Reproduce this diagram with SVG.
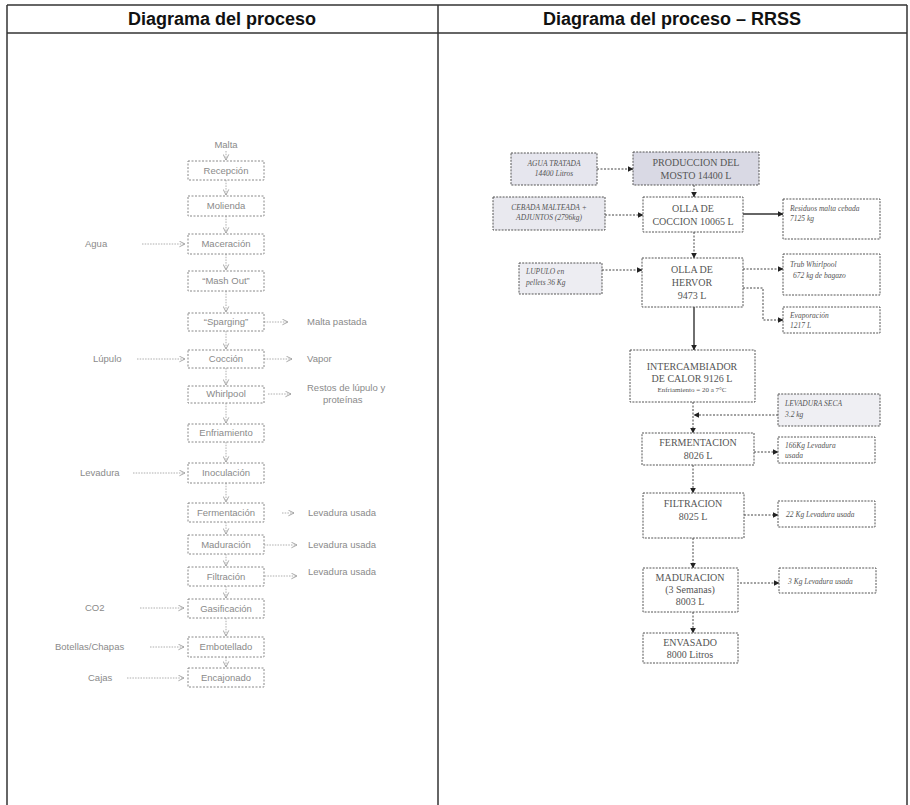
<svg xmlns="http://www.w3.org/2000/svg" width="910" height="805" viewBox="0 0 910 805">
<defs>
<style>
.hdr{font-family:"Liberation Sans",Arial,sans-serif;font-weight:bold;font-size:18px;fill:#111;text-anchor:middle}
.tbl{stroke:#333;stroke-width:1.5;fill:none}
.lb{fill:#fff;stroke:#888;stroke-width:1;stroke-dasharray:2 1.5}
.lt{font-family:"Liberation Sans",Arial,sans-serif;font-size:9.5px;fill:#8a8a8a;text-anchor:middle}
.ls{font-family:"Liberation Sans",Arial,sans-serif;font-size:9.5px;fill:#8a8a8a}
.lc{stroke:#999;stroke-width:0.8;stroke-dasharray:1.5 1.2;fill:none;marker-end:url(#chev)}
.rb{stroke:#555;stroke-width:1;stroke-dasharray:2 1.2}
.rt{font-family:"Liberation Serif","Times New Roman",serif;font-size:10px;fill:#555;text-anchor:middle}
.ri{font-family:"Liberation Serif","Times New Roman",serif;font-style:italic;font-size:7.5px;fill:#555}
.rc{stroke:#444;stroke-width:1;stroke-dasharray:2 1.5;fill:none;marker-end:url(#tri)}
.rs{stroke:#333;stroke-width:1.4;fill:none;marker-end:url(#tri)}
</style>
<marker id="chev" viewBox="0 0 10 10" refX="9" refY="5" markerWidth="7" markerHeight="7" orient="auto" markerUnits="userSpaceOnUse">
<path d="M1,1 L9,5 L1,9" fill="none" stroke="#999" stroke-width="1.2"/>
</marker>
<marker id="tri" viewBox="0 0 10 10" refX="9" refY="5" markerWidth="6" markerHeight="6" orient="auto" markerUnits="userSpaceOnUse">
<path d="M0,0 L10,5 L0,10 Z" fill="#222"/>
</marker>
</defs>
<rect width="910" height="805" fill="#fff"/>

<g id="table">
<line class="tbl" x1="7" y1="5" x2="907" y2="5"/>
<line class="tbl" x1="7" y1="33" x2="907" y2="33"/>
<line class="tbl" x1="7" y1="5" x2="7" y2="805"/>
<line class="tbl" x1="438" y1="5" x2="438" y2="805"/>
<line class="tbl" x1="907" y1="5" x2="907" y2="805"/>
<text class="hdr" x="222" y="25">Diagrama del proceso</text>
<text class="hdr" x="672" y="25">Diagrama del proceso – RRSS</text>
</g>

<g id="connectors">
<path class="lc" d="M226,151 V160"/>
<path class="lc" d="M226,180 V195"/>
<path class="lc" d="M226,216 V233"/>
<path class="lc" d="M226,254 V270"/>
<path class="lc" d="M226,291 V312"/>
<path class="lc" d="M226,331 V349"/>
<path class="lc" d="M226,368 V385"/>
<path class="lc" d="M226,403 V423"/>
<path class="lc" d="M226,442 V462"/>
<path class="lc" d="M226,483 V502"/>
<path class="lc" d="M226,522 V534"/>
<path class="lc" d="M226,554 V566"/>
<path class="lc" d="M226,586 V598"/>
<path class="lc" d="M226,618 V636"/>
<path class="lc" d="M226,657 V667"/>
<path class="lc" d="M142,244 H185"/>
<path class="lc" d="M137,359 H185"/>
<path class="lc" d="M133,473 H185"/>
<path class="lc" d="M140,608 H184"/>
<path class="lc" d="M150,647 H184"/>
<path class="lc" d="M127,678 H184"/>
<path class="lc" d="M264,322 H288"/>
<path class="lc" d="M264,359 H292"/>
<path class="lc" d="M268,394 H291"/>
<path class="lc" d="M282,513 H294"/>
<path class="lc" d="M264,545 H297"/>
<path class="lc" d="M262,576 H297"/>
<path class="rc" d="M597,169 H633"/>
<path class="rc" d="M694,185 V197"/>
<path class="rc" d="M605,215 H643"/>
<path class="rs" d="M743,214 H783"/>
<path class="rc" d="M694,232 V258"/>
<path class="rc" d="M602,270 H642"/>
<path class="rc" d="M743,269 H783"/>
<path class="rc" d="M743,288 H763 V320 H783"/>
<path class="rs" d="M694,307 V350"/>
<path class="rc" d="M693,402 V433"/>
<path class="rc" d="M778,415 H694"/>
<path class="rc" d="M754,452 H778"/>
<path class="rc" d="M693,465 V493"/>
<path class="rc" d="M744,515 H778"/>
<path class="rc" d="M693,538 V568"/>
<path class="rc" d="M740,583 H779"/>
<path class="rc" d="M693,612 V633"/>
</g>

<g id="left-labels">
<text class="lt" x="226" y="148">Malta</text>
<text class="ls" x="85" y="247">Agua</text>
<text class="ls" x="93" y="362">Lúpulo</text>
<text class="ls" x="80" y="476">Levadura</text>
<text class="ls" x="85" y="611">CO2</text>
<text class="ls" x="55" y="650">Botellas/Chapas</text>
<text class="ls" x="88" y="681">Cajas</text>
<text class="ls" x="307" y="325">Malta pastada</text>
<text class="ls" x="307" y="362">Vapor</text>
<text class="ls" x="307" y="391">Restos de lúpulo y</text>
<text class="ls" x="323" y="403">proteínas</text>
<text class="ls" x="308" y="516">Levadura usada</text>
<text class="ls" x="308" y="548">Levadura usada</text>
<text class="ls" x="308" y="575">Levadura usada</text>
</g>

<g id="l-recepcion"><rect class="lb" x="188" y="161" width="76" height="19"/><text class="lt" x="226" y="174">Recepción</text></g>
<g id="l-molienda"><rect class="lb" x="188" y="196" width="76" height="20"/><text class="lt" x="226" y="209">Molienda</text></g>
<g id="l-maceracion"><rect class="lb" x="188" y="234" width="76" height="20"/><text class="lt" x="226" y="247">Maceración</text></g>
<g id="l-mashout"><rect class="lb" x="188" y="271" width="76" height="20"/><text class="lt" x="226" y="284">“Mash Out”</text></g>
<g id="l-sparging"><rect class="lb" x="188" y="313" width="76" height="18"/><text class="lt" x="226" y="325">“Sparging”</text></g>
<g id="l-coccion"><rect class="lb" x="188" y="350" width="76" height="18"/><text class="lt" x="226" y="362">Cocción</text></g>
<g id="l-whirlpool"><rect class="lb" x="188" y="386" width="76" height="17"/><text class="lt" x="226" y="397">Whirlpool</text></g>
<g id="l-enfriamiento"><rect class="lb" x="188" y="424" width="76" height="18"/><text class="lt" x="226" y="436">Enfriamiento</text></g>
<g id="l-inoculacion"><rect class="lb" x="188" y="463" width="76" height="20"/><text class="lt" x="226" y="476">Inoculación</text></g>
<g id="l-fermentacion"><rect class="lb" x="188" y="503" width="76" height="19"/><text class="lt" x="226" y="516">Fermentación</text></g>
<g id="l-maduracion"><rect class="lb" x="188" y="535" width="76" height="19"/><text class="lt" x="226" y="548">Maduración</text></g>
<g id="l-filtracion"><rect class="lb" x="188" y="567" width="76" height="19"/><text class="lt" x="226" y="580">Filtración</text></g>
<g id="l-gasificacion"><rect class="lb" x="188" y="599" width="76" height="19"/><text class="lt" x="226" y="612">Gasificación</text></g>
<g id="l-embotellado"><rect class="lb" x="188" y="637" width="76" height="20"/><text class="lt" x="226" y="650">Embotellado</text></g>
<g id="l-encajonado"><rect class="lb" x="188" y="668" width="76" height="19"/><text class="lt" x="226" y="681">Encajonado</text></g>

<g id="r-agua"><rect class="rb" x="511" y="153" width="86" height="32" fill="#e6e6ee"/><text class="ri" x="554" y="166" text-anchor="middle">AGUA TRATADA</text><text class="ri" x="554" y="176" text-anchor="middle">14400 Litros</text></g>
<g id="r-produccion"><rect class="rb" x="633" y="152" width="126" height="33" fill="#d9d9e4"/><text class="rt" x="696" y="166">PRODUCCION DEL</text><text class="rt" x="696" y="179">MOSTO 14400 L</text></g>
<g id="r-cebada"><rect class="rb" x="493" y="197" width="112" height="33" fill="#e9e9ef"/><text class="ri" x="549" y="210" text-anchor="middle">CEBADA MALTEADA +</text><text class="ri" x="549" y="220" text-anchor="middle">ADJUNTOS (2796kg)</text></g>
<g id="r-coccion"><rect class="rb" x="643" y="197" width="100" height="35" fill="#fff"/><text class="rt" x="693" y="212">OLLA DE</text><text class="rt" x="693" y="225">COCCION 10065 L</text></g>
<g id="r-residuos"><rect class="rb" x="783" y="199" width="97" height="40" fill="#fff"/><text class="ri" x="790" y="211">Residuos malta cebada</text><text class="ri" x="790" y="221">7125 kg</text></g>
<g id="r-lupulo"><rect class="rb" x="519" y="263" width="83" height="31" fill="#ededf2"/><text class="ri" x="526" y="274">LUPULO en</text><text class="ri" x="526" y="285">pellets   36 Kg</text></g>
<g id="r-hervor"><rect class="rb" x="642" y="258" width="101" height="49" fill="#fff"/><text class="rt" x="692" y="273">OLLA DE</text><text class="rt" x="692" y="286">HERVOR</text><text class="rt" x="692" y="299">9473 L</text></g>
<g id="r-trub"><rect class="rb" x="783" y="254" width="97" height="41" fill="#fff"/><text class="ri" x="790" y="267">Trub Whirlpool</text><text class="ri" x="793" y="278">672 kg de bagazo</text></g>
<g id="r-evaporacion"><rect class="rb" x="783" y="307" width="97" height="26" fill="#fff"/><text class="ri" x="790" y="318">Evaporación</text><text class="ri" x="790" y="328">1217 L</text></g>
<g id="r-intercambiador"><rect class="rb" x="630" y="350" width="125" height="52" fill="#fff"/><text class="rt" x="692" y="370">INTERCAMBIADOR</text><text class="rt" x="692" y="382">DE CALOR 9126 L</text><text class="rt" x="692" y="392" style="font-size:7px">Enfriamiento = 20 a 7°C</text></g>
<g id="r-levadura"><rect class="rb" x="778" y="394" width="102" height="32" fill="#efeff3"/><text class="ri" x="785" y="406">LEVADURA SECA</text><text class="ri" x="785" y="417">3.2 kg</text></g>
<g id="r-fermentacion"><rect class="rb" x="642" y="433" width="112" height="32" fill="#fff"/><text class="rt" x="698" y="446">FERMENTACION</text><text class="rt" x="698" y="459">8026 L</text></g>
<g id="r-lev1"><rect class="rb" x="778" y="437" width="97" height="26" fill="#fff"/><text class="ri" x="785" y="448">166Kg Levadura</text><text class="ri" x="785" y="458">usada</text></g>
<g id="r-filtracion"><rect class="rb" x="643" y="493" width="101" height="45" fill="#fff"/><text class="rt" x="693" y="507">FILTRACION</text><text class="rt" x="693" y="520">8025 L</text></g>
<g id="r-lev2"><rect class="rb" x="778" y="501" width="97" height="26" fill="#fff"/><text class="ri" x="786" y="517">22 Kg Levadura usada</text></g>
<g id="r-maduracion"><rect class="rb" x="643" y="568" width="95" height="44" fill="#fff"/><text class="rt" x="690" y="581">MADURACION</text><text class="rt" x="690" y="593">(3 Semanas)</text><text class="rt" x="690" y="605">8003 L</text></g>
<g id="r-lev3"><rect class="rb" x="779" y="568" width="97" height="25" fill="#fff"/><text class="ri" x="788" y="584">3 Kg Levadura usada</text></g>
<g id="r-envasado"><rect class="rb" x="643" y="633" width="95" height="30" fill="#fff"/><text class="rt" x="690" y="646">ENVASADO</text><text class="rt" x="690" y="658">8000 Litros</text></g>
</svg>
